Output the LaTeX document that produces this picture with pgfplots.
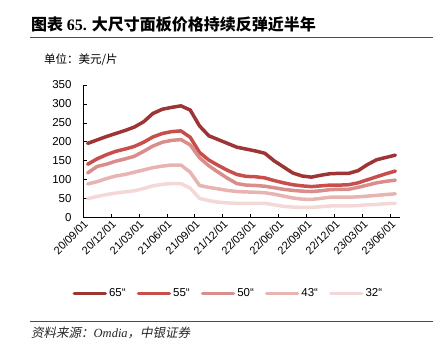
\documentclass[border=0pt]{standalone}
\usepackage{pgfplots}
\usepackage{pgfplotstable}
\pgfplotsset{compat=1.18}
\usepackage{fontspec}
\setmainfont{Liberation Sans}
\newfontfamily\cjk{Noto Sans CJK SC}
\newfontfamily\cjki[FakeSlant=0.2]{Noto Sans CJK SC}
\newfontfamily\serif{Liberation Serif}
\definecolor{c65}{RGB}{158,52,52}
\definecolor{c55}{RGB}{200,78,76}
\definecolor{c50}{RGB}{218,142,140}
\definecolor{c43}{RGB}{232,180,178}
\definecolor{c32}{RGB}{243,216,215}
\pgfplotstableread{
x s65 s55 s50 s43 s32
0.5 196 141 118 89 50
1.5 205 155 135 95 56
2.5 214 166 141 103 61
3.5 222 175 149 110 65
4.5 230 181 155 114 68
5.5 239 188 162 120 71
6.5 253 199 175 126 77
7.5 275 213 189 132 84
8.5 286 222 199 136 88
9.5 291 227 204 139 90
10.5 295 229 206 139 90
11.5 284 212 192 120 78
12.5 242 172 158 85 51
13.5 216 152 137 80 45
14.5 206 138 120 76 41
15.5 196 125 104 72 39
16.5 186 114 90 69 38
17.5 181 109 86 68 38
18.5 176 108 85 67 38
19.5 170 105 83 66 38
20.5 150 98 79 62 34
21.5 134 92 75 57 30
22.5 118 87 72 52 28
23.5 110 84 70 49 27
24.5 107 82 69 48 27
25.5 112 84 71 51 29
26.5 116 86 74 54 31
27.5 117 86 75 54 31
28.5 117 87 75 54 31
29.5 124 92 80 55 32
30.5 140 100 86 57 34
31.5 153 108 92 59 35
32.5 159 116 96 61 37
33.5 165 123 99 63 38
}\data
\begin{document}
\begin{tikzpicture}
\useasboundingbox (0pt,0pt) rectangle (433pt,357pt);
\node[anchor=west,inner sep=0pt] at (31pt,333pt) {\fontsize{16}{18}\selectfont\cjk\bfseries 图表 {\serif\bfseries 65.} 大尺寸面板价格持续反弹近半年};
\draw[line width=0.9pt,black!70] (30pt,319.7pt) -- (433pt,319.7pt);
\node[anchor=west,inner sep=0pt] at (44pt,297pt) {\fontsize{11.5}{13}\selectfont\cjk 单位：美元/片};
\draw[line width=0.9pt,black!70] (30pt,36pt) -- (433pt,36pt);
\node[anchor=west,inner sep=0pt,text=black!85] at (31pt,24pt) {\fontsize{12.5}{14}\selectfont\cjki 资料来源：{\serif\itshape Omdia}，中银证券};
\begin{axis}[
  at={(83pt,139.3pt)}, anchor=south west,
  scale only axis, width=317pt, height=132.7pt,
  xmin=0, xmax=34, ymin=0, ymax=350,
  axis lines=left, axis line style={-, line width=1pt, black},
  tick align=inside, major tick length=4pt,
  tick style={line width=0.8pt, black},
  xtick={0,3,...,33},
  xticklabels={20/09/01,20/12/01,21/03/01,21/06/01,21/09/01,21/12/01,22/03/01,22/06/01,22/09/01,22/12/01,23/03/01,23/06/01},
  ytick={0,50,...,350},
  /pgf/number format/assume math mode=true,
  tick label style={font=\fontsize{11.5}{13}\selectfont},
  xticklabel style={rotate=45, anchor=north east, inner sep=1pt, font=\fontsize{11}{12}\selectfont},
  yticklabel style={xshift=-8pt},
  legend columns=5,
  legend style={at={(0.457,-0.57)}, anchor=center, draw=none, fill=none,
    font=\fontsize{11.5}{13}\selectfont, inner sep=0pt,
    nodes={inner sep=1pt},
    /tikz/every odd column/.append style={column sep=1pt},
    /tikz/every even column/.append style={column sep=10pt}},
  legend image code/.code={\draw[#1, line width=3.5pt, line cap=round] (0pt,0pt) -- (31pt,0pt);},
  every axis plot/.append style={line width=3.5pt, line join=round, line cap=round},
]
\addplot[c65] table[x=x,y=s65] {\data};
\addplot[c55] table[x=x,y=s55] {\data};
\addplot[c50] table[x=x,y=s50] {\data};
\addplot[c43] table[x=x,y=s43] {\data};
\addplot[c32] table[x=x,y=s32] {\data};
\legend{65“,55“,50“,43“,32“}
\end{axis}
\end{tikzpicture}
\end{document}
